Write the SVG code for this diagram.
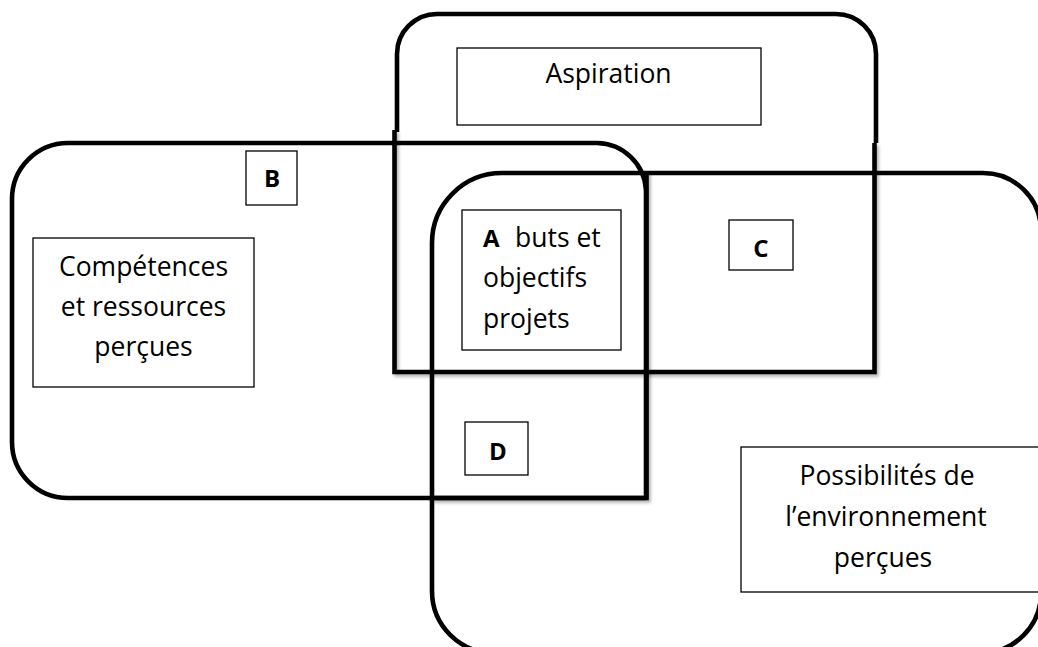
<svg xmlns="http://www.w3.org/2000/svg" width="1038" height="647" viewBox="0 0 1038 647">
<style>
  .big{fill:none;stroke:#000;stroke-width:4.6;stroke-linejoin:miter}
  .box{fill:#fff;stroke:#000;stroke-width:1.3}
  .t{font-family:"Open Sans","Noto Sans","DejaVu Sans",sans-serif;font-size:26.5px;fill:#000}
  .c{text-anchor:middle}
  .b{font-weight:bold;font-size:24px}
</style>
<defs>
  <filter id="sh" x="-5%" y="-5%" width="110%" height="110%">
    <feDropShadow dx="2" dy="2.5" stdDeviation="1.5" flood-color="#000" flood-opacity="0.3"/>
  </filter>
</defs>
<rect width="1038" height="647" fill="#fff"/>

<g id="region-aspiration">
  <path class="big" d="M397,132 V54 A40,40 0 0 1 437,14 H836 A40,40 0 0 1 876,54 V143"/>
  <path class="big" filter="url(#sh)" d="M394.5,130 V372 H874.5 V143"/>
</g>

<g id="region-competences">
  <path class="big" d="M646,498 H68 A56,56 0 0 1 12,442 V199 A56,56 0 0 1 68,143 H597 A50,50 0 0 1 646,190 V498"/>
  <path class="big" filter="url(#sh)" d="M432,498 H646.5 V171"/>
</g>

<g id="region-possibilites">
  <path class="big" d="M432,591 V243 A70,70 0 0 1 502,173 H983 A58,58 0 0 1 1041,231 V593 A60,60 0 0 1 981,653 H494 A62,62 0 0 1 432,591 Z"/>
</g>

<g id="node-aspiration">
  <rect class="box" x="457" y="48" width="304" height="77"/>
  <text class="t c" x="608.5" y="83">Aspiration</text>
</g>

<g id="node-B">
  <rect class="box" x="246" y="151" width="51" height="54"/>
  <text class="t c b" x="272" y="187">B</text>
</g>

<g id="node-competences">
  <rect class="box" x="33" y="238" width="221" height="149"/>
  <text class="t c" x="143.5" y="276">Compétences</text>
  <text class="t c" x="143.5" y="316">et ressources</text>
  <text class="t c" x="143.5" y="356">perçues</text>
</g>

<g id="node-A">
  <rect class="box" x="462" y="210" width="159" height="140"/>
  <text class="t b" x="483" y="247">A</text>
  <text class="t" x="515" y="247">buts et</text>
  <text class="t" x="483" y="287">objectifs</text>
  <text class="t" x="483" y="328">projets</text>
</g>

<g id="node-C">
  <rect class="box" x="729" y="220" width="64" height="50"/>
  <text class="t c b" x="761" y="257">C</text>
</g>

<g id="node-D">
  <rect class="box" x="465" y="422" width="63" height="53"/>
  <text class="t c b" x="498" y="460">D</text>
</g>

<g id="node-possibilites">
  <rect class="box" x="741" y="447" width="300" height="145"/>
  <text class="t c" x="887" y="485">Possibilités de</text>
  <text class="t c" x="886" y="526">l’environnement</text>
  <text class="t c" x="883" y="567">perçues</text>
</g>
</svg>
